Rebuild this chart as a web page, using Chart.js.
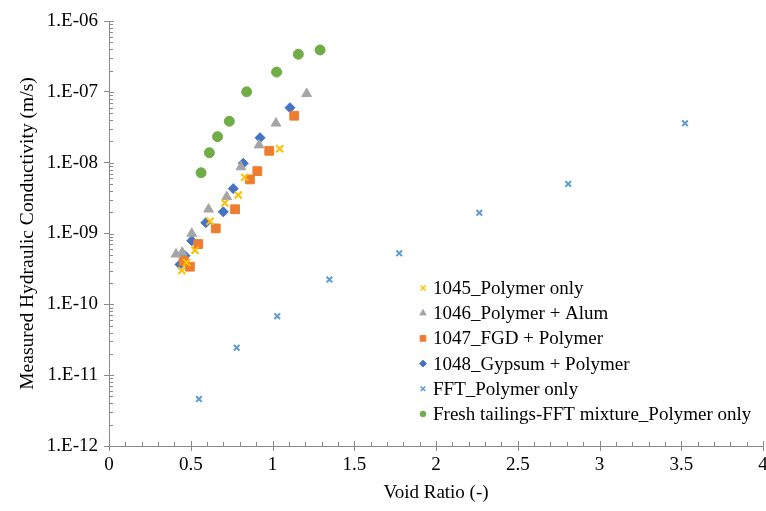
<!DOCTYPE html>
<html>
<head>
<meta charset="utf-8">
<script src="https://cdn.jsdelivr.net/npm/chart.js@4/dist/chart.umd.min.js"></script>
<style>
  html, body { margin: 0; padding: 0; background: #ffffff; }
  #wrap { width: 766px; height: 511px; position: relative; }
</style>
</head>
<body>
<div id="wrap"><canvas id="c" width="766" height="511"></canvas></div>
<script>
// ---- Data (void ratio e, hydraulic conductivity k in m/s) ----
const seriesNames = [
  '1045_Polymer only',
  '1046_Polymer + Alum',
  '1047_FGD + Polymer',
  '1048_Gypsum + Polymer',
  'FFT_Polymer only',
  'Fresh tailings-FFT mixture_Polymer only'
];

const e1045 = [0.445, 0.475, 0.526, 0.618, 0.709, 0.791, 0.830, 1.044];
const k1045 = [3.0e-10, 3.9e-10, 5.8e-10, 1.49e-9, 2.7e-9, 3.5e-9, 6.2e-9, 1.57e-8];

const e1046 = [0.410, 0.448, 0.506, 0.609, 0.720, 0.807, 0.918, 1.021, 1.209];
const k1046 = [5.1e-10, 5.4e-10, 1.0e-9, 2.2e-9, 3.3e-9, 8.7e-9, 1.77e-8, 3.6e-8, 9.4e-8];

const e1047 = [0.456, 0.495, 0.546, 0.653, 0.771, 0.862, 0.907, 0.980, 1.133];
const k1047 = [4.1e-10, 3.4e-10, 7.1e-10, 1.18e-9, 2.2e-9, 5.8e-9, 7.6e-9, 1.47e-8, 4.6e-8];

const e1048 = [0.434, 0.465, 0.506, 0.592, 0.699, 0.760, 0.821, 0.924, 1.107];
const k1048 = [3.65e-10, 4.85e-10, 7.9e-10, 1.42e-9, 2.02e-9, 4.3e-9, 9.8e-9, 2.25e-8, 5.97e-8];

const eFFT = [0.550, 0.781, 1.029, 1.348, 1.775, 2.265, 2.809, 3.523];
const kFFT = [4.6e-12, 2.44e-11, 6.8e-11, 2.24e-10, 5.25e-10, 1.96e-9, 5.0e-9, 3.6e-8];

const eFresh = [0.563, 0.614, 0.664, 0.736, 0.842, 1.025, 1.158, 1.291];
const kFresh = [7.2e-9, 1.38e-8, 2.33e-8, 3.84e-8, 1.0e-7, 1.9e-7, 3.39e-7, 3.9e-7];

const xTickValues = [0, 0.5, 1, 1.5, 2, 2.5, 3, 3.5, 4];
const xTickLabels = ['0', '0.5', '1', '1.5', '2', '2.5', '3', '3.5', '4'];
const yTickValues = [1e-12, 1e-11, 1e-10, 1e-9, 1e-8, 1e-7, 1e-6];
const yTickLabels = ['1.E-12', '1.E-11', '1.E-10', '1.E-09', '1.E-08', '1.E-07', '1.E-06'];

const xTitle = 'Void Ratio (-)';
const yTitle = 'Measured Hydraulic Conductivity (m/s)';

// ---- Build datasets ----
function pts(xs, ys) { return xs.map((x, i) => ({ x: x, y: ys[i] })); }

const styles = [
  { color: '#FFC000', pointStyle: 'crossRot', r: 5,   bw: 2, lr: 3.5 },
  { color: '#A5A5A5', pointStyle: 'triangle', r: 5.6, bw: 1, lr: 3.6 },
  { color: '#ED7D31', pointStyle: 'rect',     r: 6.2, bw: 1, lr: 4.0 },
  { color: '#4472C4', pointStyle: 'rectRot',  r: 5.0, bw: 1, lr: 3.4 },
  { color: '#5B9BD5', pointStyle: 'crossRot', r: 4.0, bw: 2, lr: 3.2 },
  { color: '#70AD47', pointStyle: 'circle',   r: 5.0, bw: 1, lr: 2.8 }
];
const seriesData = [
  pts(e1045, k1045), pts(e1046, k1046), pts(e1047, k1047),
  pts(e1048, k1048), pts(eFFT, kFFT), pts(eFresh, kFresh)
];

const datasets = seriesNames.map((name, i) => ({
  label: name,
  data: seriesData[i],
  showLine: false,
  clip: false,
  pointStyle: styles[i].pointStyle,
  pointRadius: styles[i].r,
  pointBorderWidth: styles[i].bw,
  pointBackgroundColor: styles[i].color,
  pointBorderColor: styles[i].color,
  backgroundColor: styles[i].color,
  borderColor: styles[i].color
}));

const AXIS_COLOR = '#8a8a8a';
const SERIF = '"Liberation Serif", "Times New Roman", "DejaVu Serif", serif';

// background + tick marks
const decorPlugin = {
  id: 'decor',
  beforeDraw(chart) {
    const ctx = chart.ctx;
    ctx.save();
    ctx.fillStyle = '#ffffff';
    ctx.fillRect(0, 0, chart.width, chart.height);
    ctx.restore();
  },
  afterDraw(chart) {
    const ctx = chart.ctx;
    const xs = chart.scales.x, ys = chart.scales.y;
    const ca = chart.chartArea;
    ctx.save();
    ctx.strokeStyle = AXIS_COLOR;
    ctx.lineWidth = 1;
    ctx.beginPath();
    for (let d = -12; d < -6; d++) {
      for (let m = 2; m <= 9; m++) {
        const py = Math.round(ys.getPixelForValue(m * Math.pow(10, d))) + 0.5;
        ctx.moveTo(ca.left, py); ctx.lineTo(ca.left + 4, py);
      }
    }
    yTickValues.forEach(v => {
      const py = Math.round(ys.getPixelForValue(v)) + 0.5;
      ctx.moveTo(ca.left, py); ctx.lineTo(ca.left + 5, py);
    });
    for (let i = 1; i < 40; i++) {
      if (i % 5 === 0) continue;
      const px = Math.round(xs.getPixelForValue(i / 10)) + 0.5;
      ctx.moveTo(px, ca.bottom); ctx.lineTo(px, ca.bottom - 4);
    }
    xTickValues.forEach(v => {
      const px = Math.round(xs.getPixelForValue(v)) + 0.5;
      ctx.moveTo(px, ca.bottom + 5); ctx.lineTo(px, ca.bottom - 5);
    });
    ctx.stroke();
    ctx.restore();
  }
};

// legend drawn inside plot area
const legendPlugin = {
  id: 'inLegend',
  afterDatasetsDraw(chart) {
    const ctx = chart.ctx;
    const x0 = 423, y0 = 288, step = 25.2;
    ctx.save();
    ctx.font = '19px ' + SERIF;
    ctx.textBaseline = 'middle';
    ctx.fillStyle = '#000000';
    chart.data.datasets.forEach((ds, i) => {
      const y = y0 + i * step;
      ctx.save();
      ctx.fillStyle = styles[i].color;
      ctx.strokeStyle = styles[i].color;
      ctx.lineWidth = styles[i].pointStyle === 'crossRot' ? 1.5 : 1;
      Chart.helpers.drawPoint(ctx, { pointStyle: styles[i].pointStyle, radius: styles[i].lr, rotation: 0, borderWidth: ctx.lineWidth }, x0, y);
      ctx.restore();
      ctx.fillText(ds.label, x0 + 10, y + 1);
    });
    ctx.restore();
  }
};

new Chart(document.getElementById('c'), {
  type: 'scatter',
  data: { datasets: datasets },
  plugins: [decorPlugin, legendPlugin],
  options: {
    responsive: false,
    animation: false,
    devicePixelRatio: 1,
    layout: { autoPadding: false, padding: { left: 0, right: 3, top: 21, bottom: 0 } },
    plugins: {
      legend: { display: false },
      tooltip: { enabled: false }
    },
    scales: {
      x: {
        type: 'linear',
        min: 0, max: 4,
        afterBuildTicks: s => { s.ticks = xTickValues.map(v => ({ value: v })); },
        afterFit: s => { s.height = 65; s.paddingLeft = 0; s.paddingRight = 0; },
        ticks: {
          color: '#000000',
          font: { family: SERIF, size: 19 },
          padding: 3,
          maxRotation: 0,
          autoSkip: false,
          callback: (v, i) => xTickLabels[i]
        },
        grid: { display: true, drawOnChartArea: false, drawTicks: true, tickLength: 5, tickColor: 'rgba(0,0,0,0)', color: AXIS_COLOR },
        border: { display: true, color: AXIS_COLOR, width: 1 },
        title: {
          display: true, text: xTitle, color: '#000000',
          font: { family: SERIF, size: 19 },
          padding: { top: 0, bottom: 7 }
        }
      },
      y: {
        type: 'logarithmic',
        min: 1e-12, max: 1e-6,
        afterBuildTicks: s => { s.ticks = yTickValues.map(v => ({ value: v, major: true })); },
        afterFit: s => { s.width = 109; s.paddingTop = 0; s.paddingBottom = 0; },
        ticks: {
          color: '#000000',
          font: { family: SERIF, size: 19 },
          padding: 6,
          autoSkip: false,
          callback: (v, i) => yTickLabels[i]
        },
        grid: { display: true, drawOnChartArea: false, drawTicks: true, tickLength: 5, color: AXIS_COLOR },
        border: { display: true, color: AXIS_COLOR, width: 1 },
        title: {
          display: true, text: yTitle, color: '#000000',
          font: { family: SERIF, size: 19.5 },
          padding: { top: 16, bottom: 0 }
        }
      }
    }
  }
});
</script>
</body>
</html>
